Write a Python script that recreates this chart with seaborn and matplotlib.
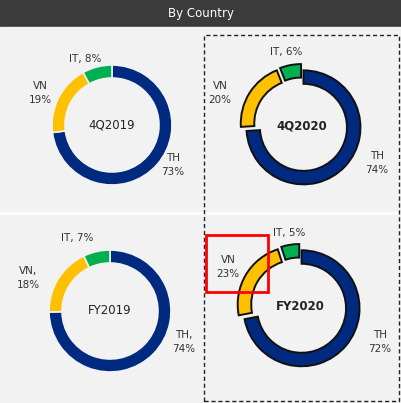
import matplotlib.pyplot as plt
import matplotlib.patches as patches
import seaborn as sns

# Data
countries = ['TH', 'VN', 'IT']
periods = ['4Q2019', '4Q2020', 'FY2019', 'FY2020']
shares = {
    '4Q2019': [73, 19, 8],
    '4Q2020': [74, 20, 6],
    'FY2019': [74, 18, 7],
    'FY2020': [72, 23, 5],
}
# label text per period (TH, VN, IT)
labels = {
    '4Q2019': ['TH\n73%', 'VN\n19%', 'IT, 8%'],
    '4Q2020': ['TH\n74%', 'VN\n20%', 'IT, 6%'],
    'FY2019': ['TH,\n74%', 'VN,\n18%', 'IT, 7%'],
    'FY2020': ['TH\n72%', 'VN\n23%', 'IT, 5%'],
}
colors = ['#002a80', '#ffc000', '#00b050']

sns.set_theme(style='white')
plt.rcParams['font.family'] = ['DejaVu Sans']

W, H = 401, 403
fig = plt.figure(figsize=(W / 100, H / 100), dpi=100)
ax = fig.add_axes([0, 0, 1, 1])


def py(y):
    # pixel row (from top) -> data y
    return H - y


# header and panels
ax.add_patch(patches.Rectangle((0, py(27)), W, 27, color='#3b3b3b', zorder=0))
ax.text(W / 2, py(13.5), 'By Country', color='white', fontsize=8.5,
        ha='center', va='center')
ax.add_patch(patches.Rectangle((0, py(211)), W, 184, color='#f2f2f2', zorder=0))
ax.add_patch(patches.Rectangle((0, 0), W, py(215), color='#f2f2f2', zorder=0))

# layout of each donut: center (px), radius, highlight
layout = {
    '4Q2019': dict(c=(112, 125), r=60, hl=False),
    '4Q2020': dict(c=(302, 126), r=57, hl=True),
    'FY2019': dict(c=(110, 311), r=61, hl=False),
    'FY2020': dict(c=(300, 307), r=58, hl=True),
}
label_pos = {
    '4Q2019': [(173, 165), (40, 93), (85, 59)],
    '4Q2020': [(377, 163), (220, 93), (286, 52)],
    'FY2019': [(184, 342), (28, 278), (77, 238)],
    'FY2020': [(380, 342), (228, 267), (289, 233)],
}

for p in periods:
    lay = layout[p]
    cx, cy = lay['c']
    r = lay['r']
    if lay['hl']:
        wp = dict(width=13.5, edgecolor='#111111', linewidth=1.4)
        explode = [2, 5, 5]  # offsets in pixels
    else:
        wp = dict(width=13, edgecolor='#f2f2f2', linewidth=1.2)
        explode = None
    ax.pie(shares[p], colors=colors, startangle=90, counterclock=False,
           center=(cx, py(cy)), radius=r, wedgeprops=wp, explode=explode,
           frame=True)
    ax.text(cx, py(cy), p, fontsize=8.5, ha='center', va='center',
            color='#222222', fontweight='bold' if lay['hl'] else 'normal')
    for txt, (lx, ly) in zip(labels[p], label_pos[p]):
        ax.text(lx, py(ly), txt, fontsize=7.5, ha='center', va='center',
                color='#333333', linespacing=1.5)

ax.set_xlim(0, W)
ax.set_ylim(0, H)
ax.axis('off')
ax.set_aspect('auto')

# dashed frame around 2020 column
ax.add_patch(patches.Rectangle((203.5, py(401)), 195, 366, fill=False,
                               edgecolor='#222222', linewidth=1,
                               linestyle=(0, (3, 2)), zorder=5))
# red highlight box
ax.add_patch(patches.Rectangle((206, py(292)), 62, 57, fill=False,
                               edgecolor='#ff0000', linewidth=2, zorder=6))

fig.savefig('out.png', dpi=100)
